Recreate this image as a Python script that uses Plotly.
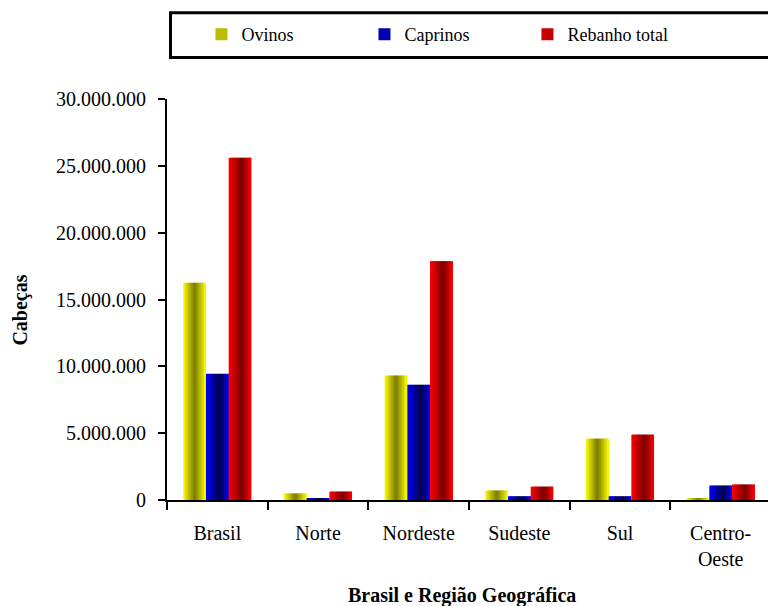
import plotly.graph_objects as go

categories = ["Brasil", "Norte", "Nordeste", "Sudeste", "Sul", "Centro-<br>Oeste"]
series_names = ["Ovinos", "Caprinos", "Rebanho total"]
ovinos = [16250000, 490000, 9310000, 710000, 4590000, 130000]
caprinos = [9440000, 110000, 8620000, 280000, 280000, 1080000]
rebanho = [25600000, 630000, 17870000, 1000000, 4890000, 1160000]
y_tickvals = [0, 5000000, 10000000, 15000000, 20000000, 25000000, 30000000]
y_ticktext = ["0", "5.000.000", "10.000.000", "15.000.000", "20.000.000", "25.000.000", "30.000.000"]

series_values = [ovinos, caprinos, rebanho]
base_colors = [(255, 255, 0), (0, 0, 255), (255, 0, 0)]
dark_min = [0.48, 0.28, 0.48]
dark_pos = [0.5, 0.62, 0.58]

# page offset of the figure div (default body margin)
OFF = 8
W, H = 776 - OFF, 606 - OFF
L, R, T, B = 166.5 - OFF, 5, 98.5 - OFF, 105.5
pw = W - L - R
ph = H - T - B


def px_x(x):
    return (x - OFF - L) / pw


def px_y(y):
    return (H - B - (y - OFF)) / ph


def shade(t, m, p):
    if t <= p:
        return 1 - (1 - m) * (t / p)
    return m + (1 - m) * ((t - p) / (1 - p))


fig = go.Figure()

N = 14
bar_w = 0.2255
group_start = -1.5 * bar_w
step = bar_w / N
for s, (name, vals) in enumerate(zip(series_names, series_values)):
    r0, g0, b0 = base_colors[s]
    for k in range(N):
        t = (k + 0.5) / N
        f = shade(t, dark_min[s], dark_pos[s])
        col = f"rgb({int(r0*f)},{int(g0*f)},{int(b0*f)})"
        w = step * 1.6 if k < N - 1 else step
        show = (k == 3)
        fig.add_trace(go.Bar(
            x=categories, y=vals, name=name,
            width=w, offset=group_start + s * bar_w + k * step,
            marker=dict(color=col, line=dict(width=0)),
            legendgroup=name, showlegend=show,
            legendrank=s + 1,
        ))

font_family = "Liberation Serif, Times New Roman, serif"

fig.update_layout(
    width=W, height=H,
    margin=dict(l=L, r=R, t=T, b=B, autoexpand=False),
    barmode="overlay",
    paper_bgcolor="white", plot_bgcolor="white",
    font=dict(family=font_family, size=20, color="black"),
    showlegend=True,
    legend=dict(
        orientation="h", x=px_x(201), xanchor="left",
        y=px_y(34), yanchor="middle",
        bgcolor="rgba(0,0,0,0)", borderwidth=0,
        entrywidth=118, entrywidthmode="pixels",
        itemwidth=30,
        font=dict(family=font_family, size=18, color="black"),
        traceorder="normal",
    ),
    xaxis=dict(
        type="category", range=[-0.5, 5.5],
        showline=True, linecolor="black", linewidth=2,
        ticks="outside", tickson="boundaries", ticklen=8, tickwidth=2, tickcolor="black",
        showgrid=False, zeroline=False,
        ticklabelstandoff=14,
        tickfont=dict(family=font_family, size=20),
    ),
    yaxis=dict(
        range=[0, 30000000], tickvals=y_tickvals, ticktext=y_ticktext,
        showline=True, linecolor="black", linewidth=2,
        ticks="outside", ticklen=7, tickwidth=2, tickcolor="black",
        showgrid=False, zeroline=False,
        ticklabelstandoff=8,
        tickfont=dict(family=font_family, size=20),
    ),
    shapes=[dict(
        type="rect", xref="paper", yref="paper",
        x0=px_x(170), x1=px_x(790),
        y0=px_y(57), y1=px_y(12),
        line=dict(color="black", width=3), fillcolor="rgba(0,0,0,0)",
    )],
    annotations=[
        dict(text="<b>Cabeças</b>", xref="paper", yref="paper",
             x=px_x(20), y=px_y(310), textangle=-90,
             showarrow=False, xanchor="center", yanchor="middle",
             font=dict(family=font_family, size=20)),
        dict(text="<b>Brasil e Região Geográfica</b>", xref="paper", yref="paper",
             x=px_x(462), y=px_y(596),
             showarrow=False, xanchor="center", yanchor="middle",
             font=dict(family=font_family, size=20)),
    ],
)

fig.write_html("out.html")
